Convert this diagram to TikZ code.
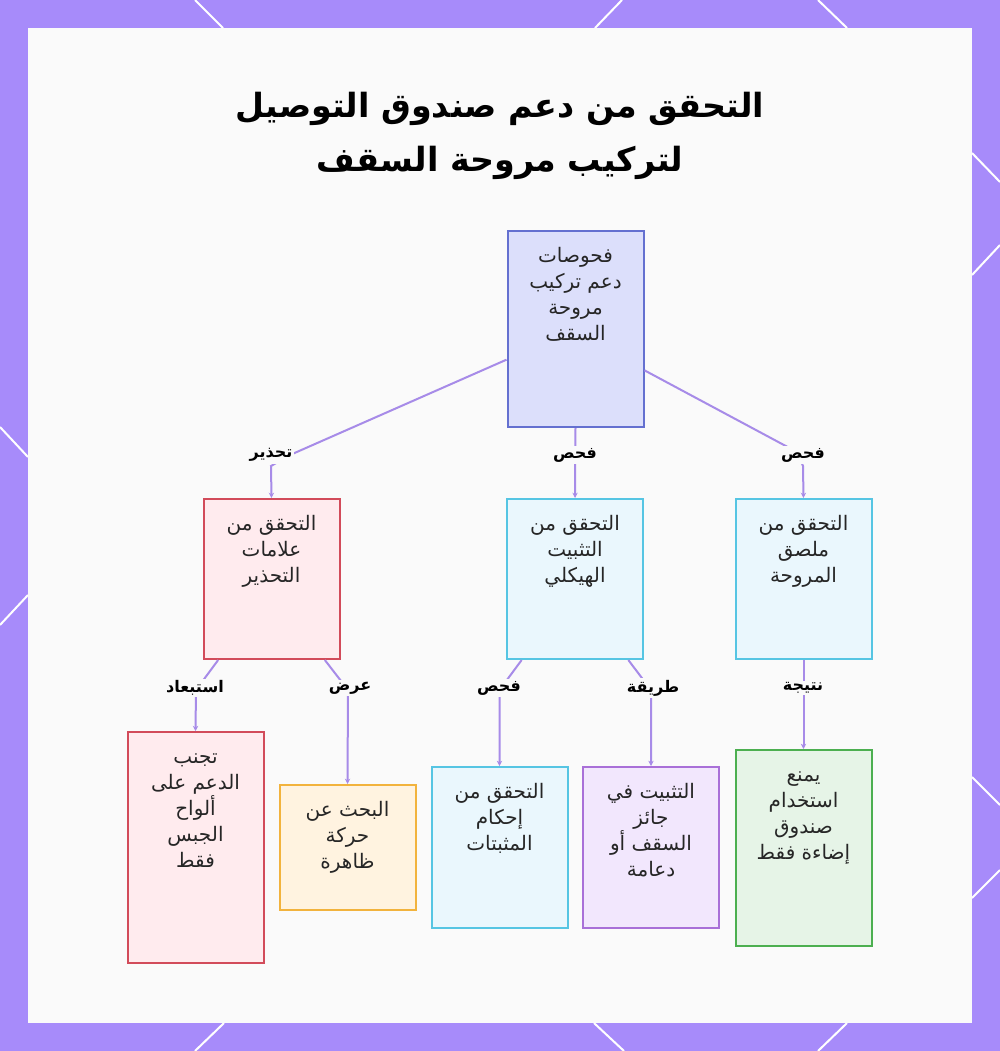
\documentclass[tikz,border=0pt]{standalone}
\usepackage{fontspec}
\TeXXeTstate=1
\newfontfamily\arabicfont[Script=Arabic]{DejaVu Sans}
\usetikzlibrary{arrows.meta}
\definecolor{bgpurple}{HTML}{A78BFA}
\definecolor{panel}{HTML}{FAFAFA}
\definecolor{textdark}{HTML}{262626}
\definecolor{edgec}{HTML}{A78BE8}
\definecolor{rootF}{HTML}{DCDFFB}
\definecolor{rootB}{HTML}{6470D0}
\definecolor{redF}{HTML}{FFEBEE}
\definecolor{redB}{HTML}{D24B5A}
\definecolor{cyanF}{HTML}{EAF7FD}
\definecolor{cyanB}{HTML}{56C5E3}
\definecolor{orgF}{HTML}{FFF3E0}
\definecolor{orgB}{HTML}{F2B33D}
\definecolor{purF}{HTML}{F2E7FD}
\definecolor{purB}{HTML}{A970D8}
\definecolor{grnF}{HTML}{E6F4E7}
\definecolor{grnB}{HTML}{4CAF50}
\tikzset{
  box/.style={draw, line width=1.5pt, minimum width=102pt, inner sep=0pt},
  txt/.style={font=\arabicfont\fontsize{15}{19.5}\selectfont, text=textdark, align=center, inner sep=0pt, anchor=north, yshift=-10.5pt},
  elabel/.style={font=\arabicfont\bfseries\fontsize{12}{14}\selectfont, text=black, fill=panel, inner sep=1.5pt},
  conn/.style={draw=edgec, line width=1.5pt, -{Stealth[length=4pt,width=4pt]}},
  deco/.style={draw=white, line width=1.5pt}
}
\begin{document}
\begin{tikzpicture}[x=0.75pt,y=-0.75pt]
\useasboundingbox (0,0) rectangle (1000,1051);
% background
\fill[bgpurple] (0,0) rectangle (1000,1051);
\draw[deco] (195,0) -- (223,28);
\draw[deco] (622,0) -- (595,28);
\draw[deco] (818,0) -- (847,28);
\draw[deco] (224,1023) -- (195,1051);
\draw[deco] (594,1023) -- (624,1051);
\draw[deco] (847,1023) -- (818,1051);
\draw[deco] (0,427) -- (28,457);
\draw[deco] (28,595) -- (0,625);
\draw[deco] (972,153) -- (1000,182);
\draw[deco] (1000,245) -- (972,275);
\draw[deco] (972,777) -- (1000,805);
\draw[deco] (1000,870) -- (972,898);
\fill[panel] (28,28) rectangle (972,1023);
% title
\node[font=\arabicfont\bfseries\fontsize{25}{40}\selectfont, text=black, align=center] (title) at (500,136)
  {\beginR التحقق من دعم صندوق التوصيل\endR\\\beginR لتركيب مروحة السقف\endR};
% nodes
\node[box, draw=rootB, fill=rootF, minimum height=147pt,
  label={[txt]90:{\strut\beginR فحوصات\endR\\\beginR دعم تركيب\endR\\\beginR مروحة\endR\\\beginR السقف\endR}}] (root) at (575.5,329) {};
\node[box, draw=redB, fill=redF, minimum height=120pt,
  label={[txt]90:{\strut\beginR التحقق من\endR\\\beginR علامات\endR\\\beginR التحذير\endR}}] (warn) at (271.5,579) {};
\node[box, draw=cyanB, fill=cyanF, minimum height=120pt,
  label={[txt]90:{\strut\beginR التحقق من\endR\\\beginR التثبيت\endR\\\beginR الهيكلي\endR}}] (struct) at (575,579) {};
\node[box, draw=cyanB, fill=cyanF, minimum height=120pt,
  label={[txt]90:{\strut\beginR التحقق من\endR\\\beginR ملصق\endR\\\beginR المروحة\endR}}] (fanlabel) at (803.5,579) {};
\node[box, draw=redB, fill=redF, minimum height=173pt,
  label={[txt]90:{\strut\beginR تجنب\endR\\\beginR الدعم على\endR\\\beginR ألواح\endR\\\beginR الجبس\endR\\\beginR فقط\endR}}] (avoid) at (195.5,847.5) {};
\node[box, draw=orgB, fill=orgF, minimum height=93.75pt,
  label={[txt]90:{\strut\beginR البحث عن\endR\\\beginR حركة\endR\\\beginR ظاهرة\endR}}] (search) at (347.5,847.5) {};
\node[box, draw=cyanB, fill=cyanF, minimum height=120.75pt,
  label={[txt]90:{\strut\beginR التحقق من\endR\\\beginR إحكام\endR\\\beginR المثبتات\endR}}] (fasten) at (499.5,847.5) {};
\node[box, draw=purB, fill=purF, minimum height=120.75pt,
  label={[txt]90:{\strut\beginR التثبيت في\endR\\\beginR جائز\endR\\\beginR السقف أو\endR\\\beginR دعامة\endR}}] (joist) at (651,847.5) {};
\node[box, draw=grnB, fill=grnF, minimum height=147pt,
  label={[txt]90:{\strut\beginR يمنع\endR\\\beginR استخدام\endR\\\beginR صندوق\endR\\\beginR إضاءة فقط\endR}}] (lightonly) at (803.5,848) {};
% connectors
\draw[conn] ([yshift=-23pt]root.west) -- (290,455) -- (271,466) -- (warn.north);
\draw[conn] (root.south) -- (struct.north);
\draw[conn] ([yshift=-31pt]root.east) -- (797,452) -- (803,466) -- (fanlabel.north);
\draw[conn] ([xshift=-40pt]warn.south) -- (196,690) -- (avoid.north);
\draw[conn] ([xshift=40pt]warn.south) -- (348,690) -- (search.north);
\draw[conn] ([xshift=-40pt]struct.south) -- (499.5,690) -- (fasten.north);
\draw[conn] ([xshift=40pt]struct.south) -- (651,690) -- (joist.north);
\draw[conn] (fanlabel.south) -- (lightonly.north);
% edge labels
\node[elabel] (l1) at (271,455) {\beginR تحذير\endR};
\node[elabel] (l2) at (575,455) {\beginR فحص\endR};
\node[elabel] (l3) at (803,455) {\beginR فحص\endR};
\node[elabel] (l4) at (195,688) {\beginR استبعاد\endR};
\node[elabel] (l5) at (350,688) {\beginR عرض\endR};
\node[elabel] (l6) at (499,688) {\beginR فحص\endR};
\node[elabel] (l7) at (653,688) {\beginR طريقة\endR};
\node[elabel] (l8) at (803,688) {\beginR نتيجة\endR};
\end{tikzpicture}
\end{document}
